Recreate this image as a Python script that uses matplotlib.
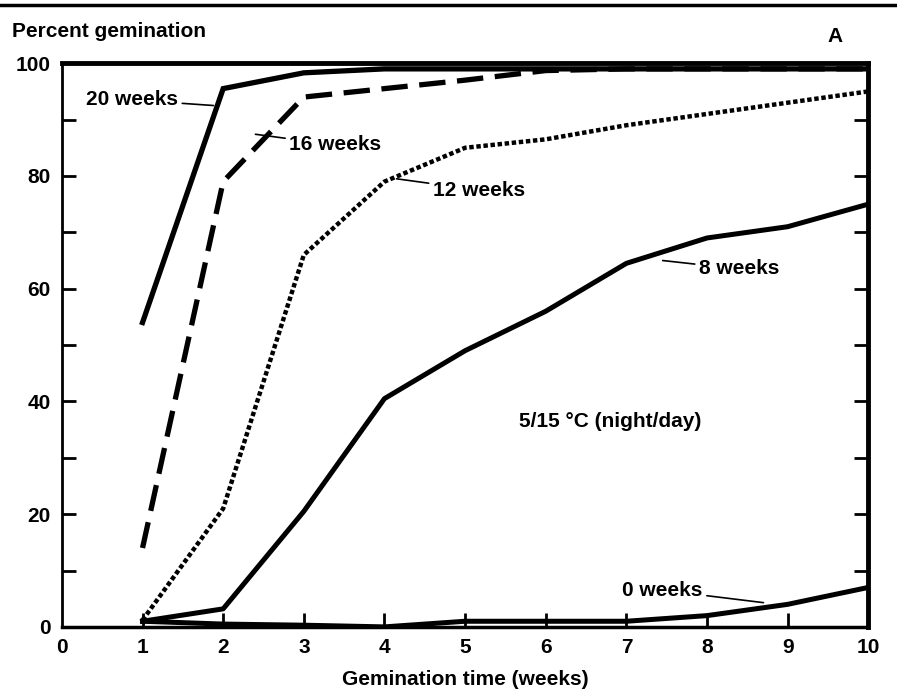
import matplotlib.pyplot as plt

plt.rcParams['font.family'] = ['Liberation Sans', 'DejaVu Sans']
plt.rcParams['font.weight'] = 'bold'
plt.rcParams['axes.labelweight'] = 'bold'

weeks = [1, 2, 3, 4, 5, 6, 7, 8, 9, 10]
w20 = [54, 95.5, 98.3, 99, 99, 99, 99, 99, 99, 99]
w16 = [14, 79, 94, 95.5, 97, 98.7, 99, 99, 99, 99]
w12 = [1.2, 21, 66, 79, 85, 86.5, 89, 91, 93, 95]
w8 = [1, 3.2, 20.5, 40.5, 49, 56, 64.5, 69, 71, 75]
w0 = [1, 0.5, 0.3, 0, 1, 1, 1, 2, 4, 7]

x_ticks = list(range(0, 11))
y_ticks = [0, 20, 40, 60, 80, 100]
y_minor = [10, 30, 50, 70, 90]

fig = plt.figure(figsize=(8.97, 6.95), dpi=100)
ax = fig.add_axes([0.069, 0.098, 0.899, 0.811])

ax.plot(weeks, w20, '-', color='black', lw=3.8, solid_joinstyle='miter')
ax.plot(weeks, w16, color='black', lw=3.8, dashes=(5, 2.2))
ax.plot(weeks, w12, color='black', lw=3.2, dashes=(1.0, 0.6))
ax.plot(weeks, w8, '-', color='black', lw=3.6)
ax.plot(weeks, w0, '-', color='black', lw=3.6)

ax.set_xlim(0, 10)
ax.set_ylim(0, 100)
ax.set_xticks(x_ticks)
ax.set_yticks(y_ticks)
ax.set_yticks(y_minor, minor=True)
ax.tick_params(axis='both', which='both', direction='in', length=10, width=2,
               labelsize=15, pad=8)
ax.tick_params(axis='y', which='both', right=True)
ax.tick_params(axis='x', which='both', top=False)
ax.xaxis.get_majorticklines()[0].set_visible(False)
ax.xaxis.get_majorticklines()[-2].set_visible(False)

ax.spines['left'].set_linewidth(2)
ax.spines['bottom'].set_linewidth(2.5)
ax.spines['top'].set_linewidth(3.5)
ax.spines['right'].set_linewidth(3.5)

ax.set_xlabel('Gemination time (weeks)', fontsize=15, labelpad=9)

def label(text, xy, xytext, ha='left'):
    ax.annotate(text, xy=xy, xytext=xytext, fontsize=15, ha=ha, va='center',
                arrowprops=dict(arrowstyle='-', color='black', lw=1.2, shrinkA=1, shrinkB=0))

label('20 weeks', (1.88, 92.5), (0.3, 93.5))
label('16 weeks', (2.4, 87.4), (2.82, 85.5))
label('12 weeks', (4.15, 79.5), (4.6, 77.5))
label('8 weeks', (7.45, 65), (7.9, 63.5))
label('0 weeks', (8.7, 4.3), (6.95, 6.5))

ax.text(6.8, 36.5, '5/15 °C (night/day)', fontsize=15, ha='center', va='center')

fig.text(0.013, 0.955, 'Percent gemination', fontsize=15, ha='left', va='center')
fig.text(0.922, 0.947, 'A', fontsize=15, ha='left', va='center')
fig.add_artist(plt.Line2D([0, 1], [0.993, 0.993], color='black', lw=2.5))

fig.savefig('out.png', dpi=100)
